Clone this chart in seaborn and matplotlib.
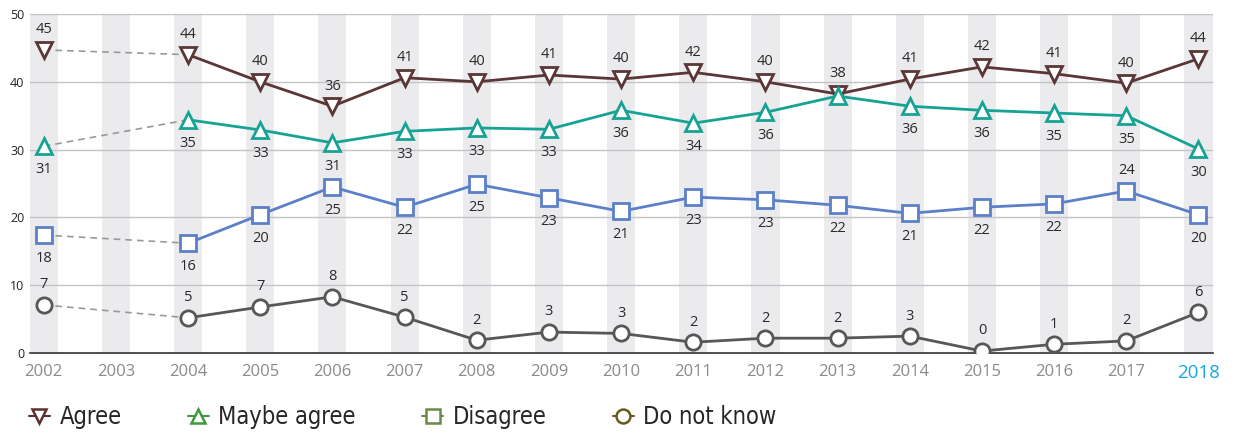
import matplotlib
matplotlib.use("Agg")
import matplotlib.pyplot as plt
from matplotlib.lines import Line2D
from matplotlib.font_manager import FontProperties
import seaborn as sns
import pandas as pd
import numpy as np

years = ["2002", "2003", "2004", "2005", "2006", "2007", "2008", "2009", "2010",
         "2011", "2012", "2013", "2014", "2015", "2016", "2017", "2018"]

# values (None = no survey in 2003)
agree = [44.7, None, 44.0, 40.0, 36.4, 40.6, 40.0, 41.0, 40.4, 41.4, 40.0, 38.2, 40.4, 42.2, 41.2, 39.8, 43.4]
maybe_agree = [30.5, None, 34.4, 32.9, 31.0, 32.7, 33.2, 33.0, 35.8, 33.9, 35.5, 37.9, 36.4, 35.8, 35.4, 35.0, 30.1]
disagree = [17.4, None, 16.2, 20.4, 24.5, 21.5, 24.9, 22.9, 20.9, 23.0, 22.6, 21.8, 20.6, 21.5, 22.0, 23.9, 20.4]
dont_know = [7.1, None, 5.2, 6.8, 8.3, 5.3, 1.9, 3.1, 2.9, 1.6, 2.2, 2.2, 2.5, 0.3, 1.3, 1.8, 6.0]

agree_lbl = [45, None, 44, 40, 36, 41, 40, 41, 40, 42, 40, 38, 41, 42, 41, 40, 44]
maybe_lbl = [31, None, 35, 33, 31, 33, 33, 33, 36, 34, 36, None, 36, 36, 35, 35, 30]
disagree_lbl = [18, None, 16, 20, 25, 22, 25, 23, 21, 23, 23, 22, 21, 22, 22, 24, 20]
dk_lbl = [7, None, 5, 7, 8, 5, 2, 3, 3, 2, 2, 2, 3, 0, 1, 2, 6]

series_names = ["Agree", "Maybe agree", "Disagree", "Do not know"]
line_colors = ["#5a3636", "#16a394", "#5b80c8", "#575757"]
legend_colors = ["#5a3030", "#3d9a3d", "#6b8a45", "#6a5a1a"]
markers = ["v", "^", "s", "o"]

sns.set_theme(style="white")
plt.rcParams["font.family"] = ["Open Sans", "DejaVu Sans"]

fig = plt.figure(figsize=(12.36, 4.37), dpi=100)
ax = fig.add_axes([0.0243, 0.192, 0.9567, 0.776])

pos = np.arange(len(years))
# vertical grey bands
for p in pos:
    ax.axvspan(p - 0.195, p + 0.195, color="#ebebee", zorder=0, lw=0)

ax.set_xlim(-0.19, len(years) - 1 + 0.195)
ax.set_ylim(0, 50)
ax.set_yticks([0, 10, 20, 30, 40, 50])
for yv in [10, 20, 30, 40, 50]:
    ax.axhline(yv, color="#c4c4c8", lw=1.0, zorder=1)

all_vals = [agree, maybe_agree, disagree, dont_know]
all_lbls = [agree_lbl, maybe_lbl, disagree_lbl, dk_lbl]
# label placement: +1 above, -1 below
placement = [
    [1] * 17,
    [-1] * 17,
    [-1] * 15 + [1, -1],
    [1] * 17,
]

for vals, lbls, col, mk, name, plc in zip(all_vals, all_lbls, line_colors, markers, series_names, placement):
    df = pd.DataFrame({"pos": pos, "val": vals})
    solid = df[df["pos"] >= 2]
    dashed = df[df["pos"].isin([0, 2])]
    sns.lineplot(data=dashed, x="pos", y="val", ax=ax, color="#999999", lw=1.2,
                 linestyle=(0, (4, 3)), zorder=2, legend=False)
    sns.lineplot(data=solid, x="pos", y="val", ax=ax, color=col, lw=2.0, zorder=3,
                 legend=False)
    pts = df.dropna()
    sns.lineplot(data=pts, x="pos", y="val", ax=ax, color=col, lw=0, marker=mk,
                 markersize=11, markerfacecolor="white", markeredgecolor=col,
                 markeredgewidth=2.0, zorder=4, legend=False)
    for p, v, l, s in zip(pos, vals, lbls, plc):
        if v is None or l is None:
            continue
        off = 14.5 if s > 0 else -17
        ax.annotate(str(l), (p, v), xytext=(0, off), textcoords="offset points",
                    ha="center", va="center", fontsize=10.5, color="#2a2a2a", zorder=5)

ax.set_xticks(pos)
ax.set_xticklabels(years, fontsize=12, color="#8a8a8a")
ax.get_xticklabels()[-1].set_color("#14a8e6")
ax.get_xticklabels()[-1].set_fontsize(13.5)
ax.tick_params(axis="x", length=0, pad=8)
ax.tick_params(axis="y", length=0, pad=4, labelsize=9, labelcolor="#222222")
ax.set_xlabel("")
ax.set_ylabel("")
for s in ["top", "right", "left"]:
    ax.spines[s].set_visible(False)
ax.spines["bottom"].set_color("#333333")
ax.spines["bottom"].set_linewidth(1.2)
ax.grid(False)

handles = [Line2D([0], [0], color=c, lw=1.5, marker=m, markersize=10,
                  markerfacecolor="white", markeredgecolor=c, markeredgewidth=1.8)
           for c, m in zip(legend_colors, markers)]
legfont = FontProperties(family="DejaVu Sans", stretch="condensed", size=17)
fig.legend(handles, series_names, loc="lower left", bbox_to_anchor=(0.006, -0.03),
           ncol=4, frameon=False, handlelength=0.9, handletextpad=0.4,
           columnspacing=2.8, prop=legfont)

fig.savefig("out.png", dpi=100)
